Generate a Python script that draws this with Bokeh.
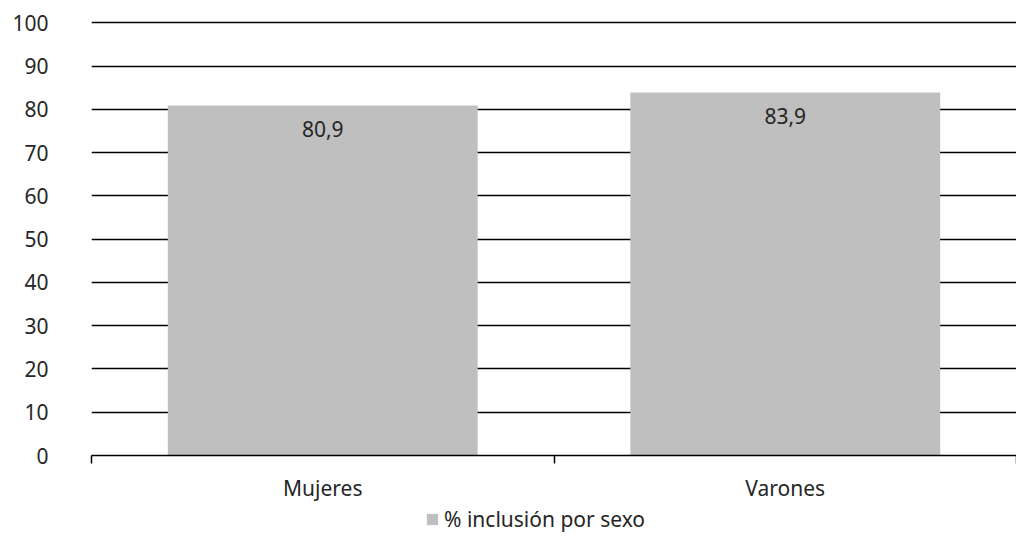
from bokeh.plotting import figure
from bokeh.layouts import column
from bokeh.models import FixedTicker, Legend, LegendItem, ColumnDataSource
from bokeh.core.properties import value
from bokeh.embed import file_html
from bokeh.resources import INLINE

categories = ["Mujeres", "Varones"]
values = [80.9, 83.9]
series_name = "% inclusión por sexo"
y_ticks = [0, 10, 20, 30, 40, 50, 60, 70, 80, 90, 100]

FONT = "Noto Sans"
TXT = "#262626"
BAR = "#bfbfbf"
FS = "21px"

xs = [i + 0.5 for i in range(len(categories))]
src = ColumnDataSource(dict(
    x=xs, top=values,
    lab=[f"{v:.1f}".replace(".", ",") for v in values],
))

p = figure(width=1016, height=504, output_backend="svg", toolbar_location=None,
           x_range=(0, len(categories)), y_range=(0, 101),
           min_border_left=91, min_border_right=0, min_border_top=18,
           min_border_bottom=42)
p.outline_line_color = None

r = p.vbar(x="x", top="top", width=0.67, source=src, fill_color=BAR,
           line_color=None)
p.text(x="x", y="top", text="lab", source=src, text_align="center",
       text_baseline="middle", y_offset=24, text_font=value(FONT),
       text_font_size=FS, text_color=TXT)

# y axis
p.yaxis.ticker = FixedTicker(ticks=y_ticks)
p.yaxis.axis_line_color = None
p.yaxis.major_tick_line_color = None
p.yaxis.minor_tick_line_color = None
p.yaxis.major_tick_in = 0
p.yaxis.major_tick_out = 0
p.yaxis.major_label_standoff = 43
p.yaxis.major_label_text_font = FONT
p.yaxis.major_label_text_font_size = FS
p.yaxis.major_label_text_color = TXT

# x axis
p.xaxis.ticker = FixedTicker(ticks=xs, minor_ticks=list(range(len(categories) + 1)))
p.xaxis.major_label_overrides = {x: c for x, c in zip(xs, categories)}
p.xaxis.axis_line_color = "black"
p.xaxis.axis_line_width = 1.5
p.xaxis.major_tick_line_color = None
p.xaxis.major_tick_in = 0
p.xaxis.major_tick_out = 8
p.xaxis.minor_tick_line_color = "black"
p.xaxis.minor_tick_line_width = 1.5
p.xaxis.minor_tick_in = 0
p.xaxis.minor_tick_out = 8
p.xaxis.major_label_standoff = 10
p.xaxis.major_label_text_font = FONT
p.xaxis.major_label_text_font_size = FS
p.xaxis.major_label_text_color = TXT

p.xgrid.grid_line_color = None
p.ygrid.ticker = FixedTicker(ticks=y_ticks)
p.ygrid.grid_line_color = "black"
p.ygrid.grid_line_width = 1.5

# legend strip below the chart
p2 = figure(width=1016, height=29, output_backend="svg", toolbar_location=None,
            x_range=(0, 1), y_range=(0, 1),
            min_border_left=91, min_border_right=0, min_border_top=0,
            min_border_bottom=0)
p2.outline_line_color = None
p2.axis.visible = False
p2.grid.visible = False
dummy = p2.vbar(x=[5], top=[1], width=0.5, fill_color=BAR, line_color=None)
legend = Legend(items=[LegendItem(label=series_name, renderers=[dummy])],
                orientation="horizontal", location=(334, 0),
                border_line_color=None, background_fill_color=None,
                label_text_font=FONT, label_text_font_size=FS,
                label_text_color=TXT, glyph_width=14, glyph_height=14,
                label_standoff=5, padding=0, margin=0, spacing=0)
p2.add_layout(legend)

layout = column(p, p2, spacing=0)
open("out.html", "w").write(file_html(layout, INLINE))
